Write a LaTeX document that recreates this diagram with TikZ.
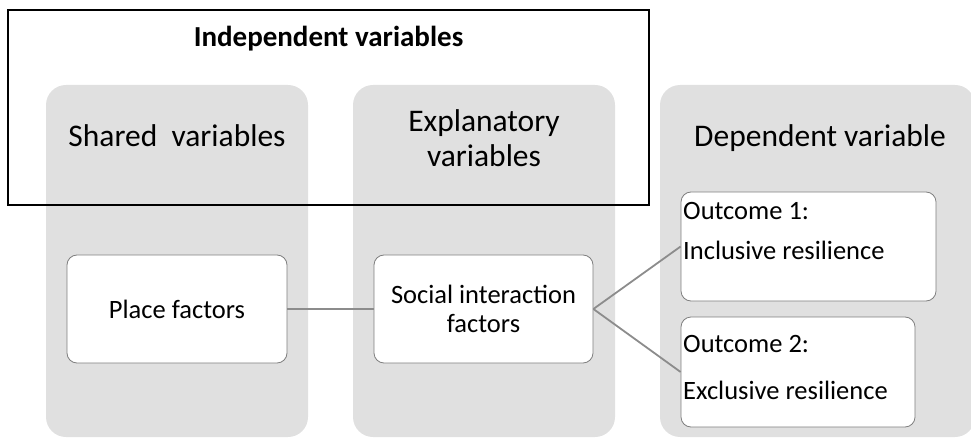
\documentclass[tikz,border=0pt]{standalone}
\usepackage{fontspec}
\setmainfont{Carlito}
\definecolor{colgray}{HTML}{E0E0E0}
\definecolor{boxline}{HTML}{7F7F7F}
\definecolor{linkgray}{HTML}{8C8C8C}

\begin{document}
\begin{tikzpicture}[x=1pt, y=-1pt,
    column/.style={fill=colgray, rounded corners=20pt, inner sep=0pt, minimum height=352pt},
    factor/.style={draw=boxline, fill=white, rounded corners=10pt, line width=0.8pt, inner sep=0pt,
                   font=\fontsize{26.5}{29}\selectfont, align=center},
    head/.style={font=\fontsize{31.5}{35}\selectfont, align=center, inner sep=0pt},
    body/.style={font=\fontsize{26.5}{29}\selectfont, inner sep=0pt},
    link/.style={draw=linkgray, line width=1.8pt}]
  \useasboundingbox (0,0) rectangle (971,438);

  % the three columns
  \node[column, minimum width=262pt] (shared) at (177,261) {};
  \node[column, minimum width=262pt] (expl)   at (484,261) {};
  \node[column, minimum width=315pt] (dep)    at (817.5,261) {};

  % frame of the independent variables
  \node[draw, line width=1.5pt, inner sep=0pt, minimum width=641pt, minimum height=195pt] (indep) at (328.5,107.5) {};
  \node[head, font=\bfseries\fontsize{29}{35}\selectfont, anchor=base] (indeptitle) at (328.5,47) {Independent variables};

  \node[head, anchor=base] (sharedtitle) at (177,147) {Shared~ variables};
  \node[head] (expltitle) at (484,138) {Explanatory\\variables};
  \node[head, anchor=base] (deptitle) at (820,147) {Dependent variable};

  % factors and outcomes
  \node[factor, minimum width=220pt, minimum height=108pt] (place)  at (177,309)   {Place factors};
  \node[factor, minimum width=219pt, minimum height=108pt] (social) at (483.5,309) {Social interaction\\factors};
  \node[factor, minimum width=255pt, minimum height=109pt] (out1)   at (808.5,246.5) {};
  \node[factor, minimum width=234pt, minimum height=110pt] (out2)   at (798,372)   {};

  \node[body, anchor=base west] (out1a) at (683,220) {Outcome 1:};
  \node[body, anchor=base west] (out1b) at (683,260) {Inclusive resilience};
  \node[body, anchor=base west] (out2a) at (683,352) {Outcome 2:};
  \node[body, anchor=base west] (out2b) at (683,399) {Exclusive resilience};

  \draw[link] (place) -- (social);
  \draw[link] (social.east) -- (out1.west);
  \draw[link] (social.east) -- (out2.west);
\end{tikzpicture}
\end{document}
